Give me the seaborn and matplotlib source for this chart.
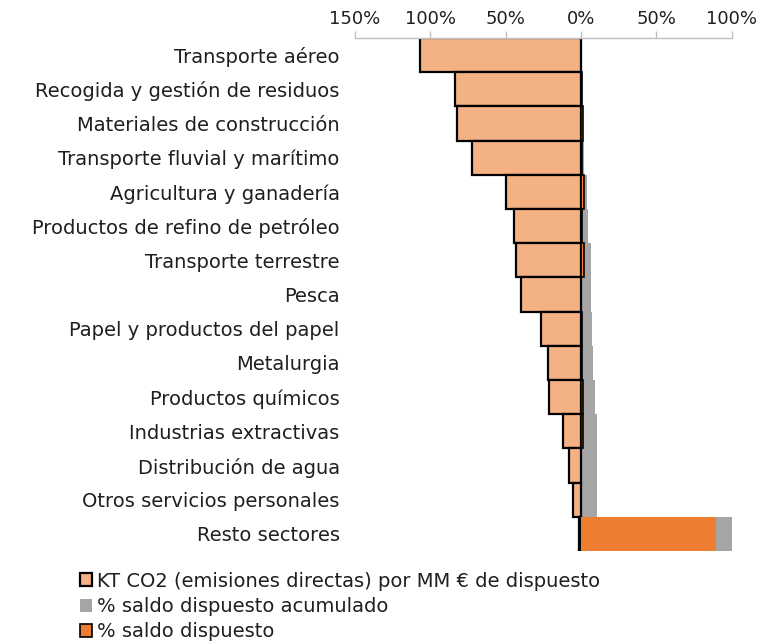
import matplotlib
matplotlib.use("Agg")
import matplotlib.pyplot as plt
import seaborn as sns
import pandas as pd

sectores = [
    "Transporte aéreo",
    "Recogida y gestión de residuos",
    "Materiales de construcción",
    "Transporte fluvial y marítimo",
    "Agricultura y ganadería",
    "Productos de refino de petróleo",
    "Transporte terrestre",
    "Pesca",
    "Papel y productos del papel",
    "Metalurgia",
    "Productos químicos",
    "Industrias extractivas",
    "Distribución de agua",
    "Otros servicios personales",
    "Resto sectores",
]

# KT CO2 por MM € de dispuesto (escalado, se dibuja hacia la izquierda)
emisiones = [-107, -83.5, -82, -72.5, -49.5, -44.5, -43.5, -40,
             -26.8, -22.2, -21.5, -11.8, -8.2, -5.2, -1.5]
# % saldo dispuesto acumulado
acumulado = [0.2, 0.5, 1.5, 1.8, 3.6, 4.4, 6.5, 6.6, 7.5, 8.2, 9.3,
             10.4, 10.6, 10.7, 100]
# % saldo dispuesto
dispuesto = [0.2, 0.3, 1.0, 0.3, 1.8, 0.8, 2.1, 0.1, 0.9, 0.7, 1.1,
             1.1, 0.2, 0.1, 89.3]

ticks = [-150, -100, -50, 0, 50, 100]

df = pd.DataFrame({"sector": sectores, "emisiones": emisiones,
                   "acumulado": acumulado, "dispuesto": dispuesto})

sns.set_theme(style="white")
plt.rcParams["font.family"] = ["DejaVu Sans"]
FS = 14
TICK_FS = 13

fig = plt.figure(figsize=(7.6, 6.41), dpi=100)
ax = fig.add_axes([0.467, 0.1404, 0.496, 0.8003])

sns.barplot(data=df, x="acumulado", y="sector", orient="h", width=1,
            color="#A5A5A5", saturation=1, linewidth=0,
            label="% saldo dispuesto acumulado", ax=ax)
sns.barplot(data=df, x="emisiones", y="sector", orient="h", width=1,
            color="#F4B183", saturation=1, edgecolor="black", linewidth=1.6,
            label="KT CO2 (emisiones directas) por MM € de dispuesto", ax=ax)
sns.barplot(data=df, x="dispuesto", y="sector", orient="h", width=1,
            color="#ED7D31", saturation=1, edgecolor="black", linewidth=1.2,
            label="% saldo dispuesto", ax=ax)

# the wide bar keeps a clean fill without outline
for p in ax.patches:
    if p.get_width() > 50:
        p.set_edgecolor("none")

ax.axvline(0, color="#595959", lw=1.5, zorder=0.5)

ax.set_xlim(-150, 100)
ax.set_ylim(len(sectores) - 0.5, -0.5)
ax.set_xticks(ticks)
ax.set_xticklabels([f"{abs(t)}%" for t in ticks])
ax.xaxis.tick_top()
ax.tick_params(axis="x", direction="out", length=5, width=1,
               color="#BFBFBF", labelsize=TICK_FS, labelcolor="#1F1F1F",
               pad=2)
ax.tick_params(axis="y", length=0, labelsize=FS, labelcolor="#1F1F1F",
               pad=11)
ax.set_xlabel("")
ax.set_ylabel("")
for s in ["left", "right", "bottom"]:
    ax.spines[s].set_visible(False)
ax.spines["top"].set_color("#BFBFBF")
ax.spines["top"].set_linewidth(1)

h, l = ax.get_legend_handles_labels()
if ax.legend_ is not None:
    ax.legend_.remove()
order = [1, 0, 2]
leg = fig.legend([h[i] for i in order], [l[i] for i in order],
                 loc="upper left", bbox_to_anchor=(0.105, 0.108),
                 frameon=False, fontsize=FS, handlelength=0.65,
                 handleheight=0.65, handletextpad=0.25, labelspacing=0.32,
                 borderaxespad=0, borderpad=0)
for t in leg.get_texts():
    t.set_color("#1F1F1F")

fig.savefig("out.png", dpi=100)
